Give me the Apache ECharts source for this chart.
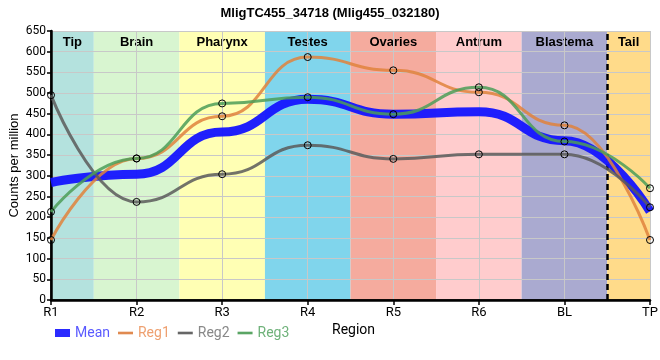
<!DOCTYPE html>
<html><head><meta charset="utf-8">
<script src="https://cdn.jsdelivr.net/npm/echarts@6/dist/echarts.min.js"></script>
<style>html,body{margin:0;padding:0;background:#fff}#c{width:660px;height:360px}</style>
</head><body><div id="c"></div>
<script>
const categories = ['R1','R2','R3','R4','R5','R6','BL','TP'];
const regionNames = ['Tip','Brain','Pharynx','Testes','Ovaries','Antrum','Blastema','Tail'];
const meanVals = [284, 304, 406, 485, 449, 455, 385, 214];
const reg1Vals = [145, 342, 444, 587, 555, 502, 422, 145];
const reg2Vals = [495, 237, 304, 374, 341, 352, 352, 224];
const reg3Vals = [213, 342, 475, 490, 449, 514, 383, 270];
const yTicks = [0, 50, 100, 150, 200, 250, 300, 350, 400, 450, 500, 550, 600, 650];

const regionColors = ['#b4e2de','#d8f5d0','#ffffb4','#80d5ec','#f5ab9e','#ffcccd','#aaaad0','#ffdb8a'];
const lastIdx = categories.length - 1;
const toPairs = arr => arr.map((v, i) => [i, v]);

const bandData = regionNames.map((n, i) => [
  { xAxis: Math.max(0, i - 0.5), yAxis: yTicks[yTicks.length - 1], name: n,
    itemStyle: { color: regionColors[i], opacity: 1 } },
  { xAxis: Math.min(lastIdx, i + 0.5), yAxis: 0 }
]);

const chart = echarts.init(document.getElementById('c'), null, { renderer: 'canvas' });
const lineSeries = (name, vals, color, width, sym, op) => ({
  name, type: 'line', data: toPairs(vals), z: 5,
  smooth: 0.5, smoothMonotone: 'x',
  showSymbol: sym, symbol: 'circle', symbolSize: 7,
  itemStyle: { color: 'rgba(0,0,0,0)', borderColor: '#000', borderWidth: 1 },
  lineStyle: { color, width, opacity: op },
  emphasis: { disabled: true }
});

chart.setOption({
  animation: false,
  title: {
    text: 'MligTC455_34718 (Mlig455_032180)', left: 'center', top: 2,
    textStyle: { fontFamily: 'Liberation Sans', fontWeight: 'bold', fontSize: 13, color: '#000' }
  },
  grid: { left: 51, right: 10, top: 31, bottom: 60, containLabel: false, outerBoundsMode: 'none' },
  xAxis: [{
    type: 'value', min: 0, max: lastIdx, interval: 1, z: 3,
    axisLine: { show: true, onZero: false, lineStyle: { color: '#000', width: 2.5 } },
    axisTick: { show: true, length: 5, lineStyle: { color: '#000', width: 1.5 } },
    axisLabel: { formatter: v => categories[v] || '', color: '#000', fontSize: 13, fontFamily: 'Roboto', margin: 6 },
    splitLine: { show: true, lineStyle: { color: '#c8c8c8', width: 1 } }
  }, {
    type: 'value', position: 'top', min: 0, max: lastIdx, z: 3,
    axisLine: { show: true, lineStyle: { color: '#000', width: 1.5 } },
    axisTick: { show: false }, axisLabel: { show: false }, splitLine: { show: false }
  }],
  yAxis: [{
    type: 'value', min: 0, max: 650, interval: 50, z: 3,
    name: 'Counts per million', nameLocation: 'middle', nameGap: 30, nameMoveOverlap: false,
    nameTextStyle: { color: '#000', fontSize: 13, fontFamily: 'Liberation Sans' },
    axisLine: { show: true, lineStyle: { color: '#000', width: 2.5 } },
    axisTick: { show: true, length: 4, lineStyle: { color: '#000', width: 1.5 } },
    axisLabel: { color: '#000', fontSize: 12, fontFamily: 'Roboto', margin: 5 },
    splitLine: { show: true, lineStyle: { color: '#c8c8c8', width: 1 } }
  }, {
    type: 'value', position: 'right', min: 0, max: 650, z: 3,
    axisLine: { show: true, lineStyle: { color: '#000', width: 1.5 } },
    axisTick: { show: false }, axisLabel: { show: false }, splitLine: { show: false }
  }],
  legend: {
    left: 50, top: 321, itemWidth: 15, itemHeight: 8, itemGap: 8,
    textStyle: { fontSize: 14, fontFamily: 'Roboto' },
    data: [
      { name: 'Mean', icon: 'rect', itemStyle: { color: '#2a2aff', borderWidth: 0 }, textStyle: { color: '#5a5aff' } },
      { name: 'Reg1', icon: 'path://M0,0h40v7h-40z', itemStyle: { color: '#e08a50', borderWidth: 0 }, textStyle: { color: '#eea070' } },
      { name: 'Reg2', icon: 'path://M0,0h40v7h-40z', itemStyle: { color: '#666', borderWidth: 0 }, textStyle: { color: '#888' } },
      { name: 'Reg3', icon: 'path://M0,0h40v7h-40z', itemStyle: { color: '#5aa564', borderWidth: 0 }, textStyle: { color: '#6fb27a' } }
    ]
  },
  graphic: [{
    type: 'text', left: 332, top: 323,
    style: { text: 'Region', fontSize: 14, fontFamily: 'Roboto', fill: '#000' }
  }],
  series: [
    {
      name: 'bands', type: 'line', data: [], z: 1, silent: true,
      markArea: {
        silent: true,
        label: { show: true, position: 'insideTop', distance: 5, color: '#000',
          fontWeight: 'bold', fontSize: 13, fontFamily: 'Liberation Sans' },
        data: bandData
      },
      markLine: {
        silent: true, symbol: 'none',
        lineStyle: { color: '#000', type: [6, 4], width: 2.5 },
        label: { show: false },
        data: [{ xAxis: lastIdx - 0.5 }]
      }
    },
    lineSeries('Mean', meanVals, '#1414ff', 9, false, 0.95),
    lineSeries('Reg1', reg1Vals, '#e0823c', 3, true, 0.85),
    lineSeries('Reg2', reg2Vals, '#5a5a5a', 3, true, 0.85),
    lineSeries('Reg3', reg3Vals, '#4c9e58', 3, true, 0.85)
  ]
});
</script></body></html>
